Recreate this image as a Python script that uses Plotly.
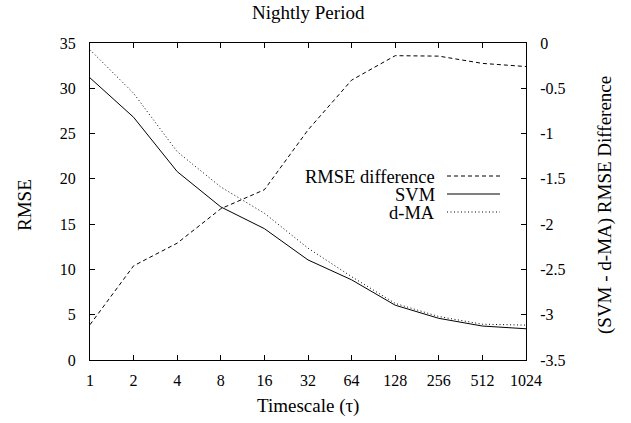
import plotly.graph_objects as go

# Data
timescale = [1, 2, 4, 8, 16, 32, 64, 128, 256, 512, 1024]
tick_labels = ["1", "2", "4", "8", "16", "32", "64", "128", "256", "512", "1024"]
svm = [31.15, 26.8, 20.8, 16.9, 14.5, 11.05, 8.85, 6.05, 4.6, 3.75, 3.45]
dma = [34.25, 29.45, 23.0, 19.1, 16.2, 12.35, 9.2, 6.25, 4.8, 3.95, 3.85]
rmse_diff = [-3.11, -2.46, -2.21, -1.83, -1.62, -0.96, -0.41, -0.14, -0.145, -0.225, -0.26]

left_ticks = [0, 5, 10, 15, 20, 25, 30, 35]
right_ticks = [0, -0.5, -1, -1.5, -2, -2.5, -3, -3.5]
right_tick_text = ["0", "-0.5", "-1", "-1.5", "-2", "-2.5", "-3", "-3.5"]

FONT = "Liberation Serif, Times New Roman, serif"
FS_TICK = 16
FS_TEXT = 19
FS_LEG = 18.5

W, H = 631, 423
pl, pr, pt, pb = 90, 526, 43, 360

fig = go.Figure()
fig.add_trace(go.Scatter(x=timescale, y=rmse_diff, mode="lines", yaxis="y2",
                         line=dict(color="black", width=1, dash="4px,3px"),
                         name="RMSE difference", showlegend=False))
fig.add_trace(go.Scatter(x=timescale, y=svm, mode="lines",
                         line=dict(color="black", width=1),
                         name="SVM", showlegend=False))
fig.add_trace(go.Scatter(x=timescale, y=dma, mode="lines",
                         line=dict(color="black", width=1, dash="1px,2.5px"),
                         name="d-MA", showlegend=False))

axis_common = dict(showgrid=False, zeroline=False, showline=True, linecolor="black",
                   linewidth=1, ticks="inside", ticklen=5, tickcolor="black",
                   tickfont=dict(family=FONT, size=FS_TICK, color="black"))

fig.update_layout(
    width=W, height=H,
    margin=dict(l=pl, r=W - pr, t=pt, b=H - pb),
    paper_bgcolor="white", plot_bgcolor="white",
    font=dict(family=FONT, size=FS_TEXT, color="black"),
    xaxis=dict(type="log", range=[0, 3.0103], tickvals=timescale, ticktext=tick_labels,
               mirror="ticks", ticklabelstandoff=6, **axis_common),
    yaxis=dict(range=[0, 35], tickvals=left_ticks, ticklabelstandoff=10, **axis_common),
    yaxis2=dict(range=[-3.5, 0], tickvals=right_ticks, ticktext=right_tick_text,
                overlaying="y", side="right", ticklabelstandoff=10, **axis_common),
)


def px(x):
    return (x - pl) / (pr - pl)


def py(y):
    return (pb - y) / (pb - pt)


fig.add_annotation(text="Nightly Period", x=px(308), y=py(13), xref="paper", yref="paper",
                   showarrow=False, xanchor="center", yanchor="middle")
fig.add_annotation(text="Timescale (τ)", x=px(308), y=py(406), xref="paper", yref="paper",
                   showarrow=False, xanchor="center", yanchor="middle")
fig.add_annotation(text="RMSE", x=px(25), y=py(205), xref="paper", yref="paper",
                   showarrow=False, textangle=-90, xanchor="center", yanchor="middle")
fig.add_annotation(text="(SVM - d-MA) RMSE Difference", x=px(605), y=py(205), xref="paper",
                   yref="paper", showarrow=False, textangle=-90, xanchor="center",
                   yanchor="middle")

# Legend (text right-aligned, sample line to the right)
legend_names = ["RMSE difference", "SVM", "d-MA"]
legend_dashes = ["4px,3px", "solid", "1px,2.5px"]
legend_rows = [176, 194, 212]
for name, dash, yy in zip(legend_names, legend_dashes, legend_rows):
    fig.add_annotation(text=name, x=px(437), y=py(yy + 1), xref="paper", yref="paper",
                       showarrow=False, xanchor="right", yanchor="middle",
                       font=dict(size=FS_LEG))
    fig.add_shape(type="line", x0=px(447), x1=px(500), y0=py(yy), y1=py(yy),
                  xref="paper", yref="paper", line=dict(color="black", width=1, dash=dash))

fig.write_html("out.html")
